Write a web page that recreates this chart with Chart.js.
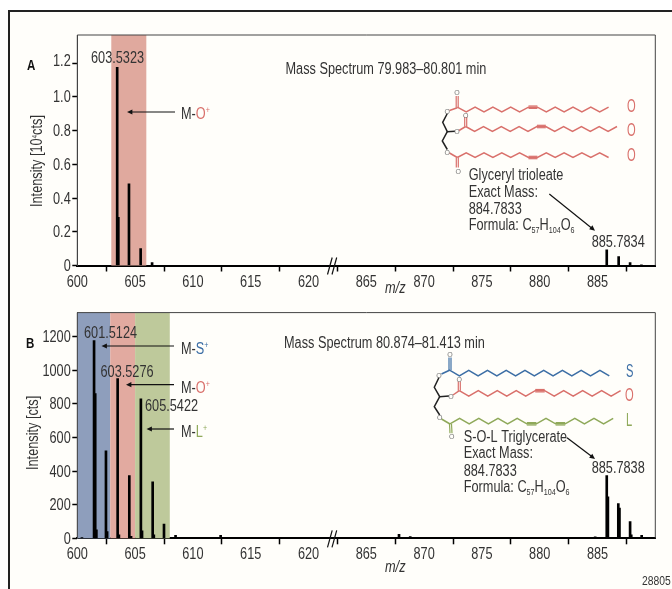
<!DOCTYPE html>
<html>
<head>
<meta charset="utf-8">
<script src="https://cdn.jsdelivr.net/npm/chart.js@4"></script>
<style>
  html, body { margin: 0; padding: 0; background: #fff; overflow: hidden; }
  #page { position: relative; width: 672px; height: 589px; }
  #frame { position: absolute; left: 8px; top: 10px; right: 0; bottom: 0; background: #fffefa; border-left: 2px solid #222; border-top: 2px solid #222; }
  canvas { position: absolute; left: 0; }
</style>
</head>
<body>
<div id="page">
  <div id="frame"></div>
  <canvas id="chartA" width="672" height="300" style="top:0"></canvas>
  <canvas id="chartB" width="672" height="289" style="top:300px"></canvas>
</div>
<script>
// peaks of spectrum A (m/z, 10^4 cts)
const peakMzA = [603.45, 603.55, 604.47, 605.48, 606.47, 885.8, 886.83, 887.82, 888.8];
const peakHeightA = [1.175, 0.285, 0.485, 0.1, 0.018, 0.093, 0.053, 0.017, 0.004];

// peaks of spectrum B (m/z, cts)
const peakMzB = [600.4, 601.45, 601.55, 601.65, 602.48, 602.58, 603.49, 603.6, 604.5, 604.65, 605.5, 605.6, 606.52, 606.62, 607.5, 608.5, 609.5, 610.5, 612.4, 613.5, 614.5, 617.47, 618.5, 619.5, 867.5, 867.83, 868.8, 869.8, 872.8, 883.8, 884.8, 885.8, 885.9, 886.8, 886.9, 887.82, 887.92, 888.82];
const peakHeightB = [5, 1176, 860, 50, 520, 40, 949, 20, 373, 12, 830, 45, 336, 20, 85, 18, 4, 3, 18, 3, 3, 6, 3, 3, 6, 24, 10, 5, 3, 3, 8, 373, 247, 207, 180, 100, 20, 18];

// x axis: the part after the break is shifted down by this much
const breakShift = 240;
const xTickValues = [600, 605, 610, 615, 620, 625, 630, 635, 640, 645, 650];
const xTickLabels = ['600', '605', '610', '615', '620', '865', '870', '875', '880', '885', ''];

const yTicksA = [0, 0.2, 0.4, 0.6, 0.8, 1.0, 1.2];
const yLabelsA = ['0', '0.2', '0.4', '0.6', '0.8', '1.0', '1.2'];
const yTicksB = [0, 200, 400, 600, 800, 1000, 1200];
const yLabelsB = ['0', '200', '400', '600', '800', '1000', '1200'];

// coloured m/z windows
const bandStartA = [602.94];
const bandEndA = [605.97];
const bandColorA = ['#e0a99e'];
const bandStartB = [600, 602.85, 605];
const bandEndB = [602.85, 605, 608];
const bandColorB = ['#8e9ebc', '#e2aaa0', '#bec99b'];

const FONT = '"Liberation Sans", sans-serif';
const NARROW = 0.795; // no condensed face installed, so squeeze the text
const TEXT = '#333';
const RED = '#d9706b';
const BLUE = '#3c6ea5';
const GREEN = '#8fa95a';

Chart.defaults.font.family = FONT;
Chart.defaults.color = TEXT;

function toAxis(mz) {
  return mz > 700 ? mz - breakShift : mz;
}

// text made of several pieces, for the sub and superscripts
function runs(ctx, x, y, parts) {
  let cx = x;
  parts.forEach(p => {
    const sx = p.sx || NARROW;
    ctx.font = (p.style || '') + ' ' + (p.size || 16) + 'px ' + FONT;
    ctx.fillStyle = p.color || TEXT;
    ctx.save();
    ctx.translate(cx, y + (p.dy || 0));
    ctx.scale(sx, 1);
    ctx.fillText(p.t, 0, 0);
    ctx.restore();
    cx += ctx.measureText(p.t).width * sx;
  });
}

function label(ctx, x, y, t, size, color, style) {
  runs(ctx, x, y, [{ t: t, size: size, color: color, style: style }]);
}

// the S, O, L letters next to the chains
function chainLetter(ctx, x, y, t, color) {
  runs(ctx, x, y, [{ t: t, size: 18, color: color, sx: 0.62 }]);
}

function textWidth(ctx, t) {
  ctx.font = '16px ' + FONT;
  return ctx.measureText(t).width * NARROW;
}

function arrow(ctx, x1, y1, x2, y2) {
  const a = Math.atan2(y2 - y1, x2 - x1);
  ctx.strokeStyle = '#111';
  ctx.fillStyle = '#111';
  ctx.lineWidth = 1.2;
  ctx.beginPath();
  ctx.moveTo(x1, y1);
  ctx.lineTo(x2 - 4 * Math.cos(a), y2 - 4 * Math.sin(a));
  ctx.stroke();
  ctx.beginPath();
  ctx.moveTo(x2, y2);
  ctx.lineTo(x2 - 6 * Math.cos(a - 0.45), y2 - 6 * Math.sin(a - 0.45));
  ctx.lineTo(x2 - 6 * Math.cos(a + 0.45), y2 - 6 * Math.sin(a + 0.45));
  ctx.closePath();
  ctx.fill();
}

function path(ctx, pts, color, w) {
  ctx.strokeStyle = color;
  ctx.lineWidth = w || 1.5;
  ctx.beginPath();
  pts.forEach((p, i) => (i ? ctx.lineTo(p[0], p[1]) : ctx.moveTo(p[0], p[1])));
  ctx.stroke();
}

// fatty acid tail: zigzag, flat at the double bonds
function chain(ctx, x0, y0, step, dy, n, doubles, color) {
  let low = false;
  const pts = [[x0, y0]];
  for (let i = 1; i <= n; i++) {
    if (!doubles.includes(i - 1)) low = !low;
    pts.push([x0 + step * i, y0 + (low ? dy : 0)]);
  }
  path(ctx, pts, color, 1.5);
  doubles.forEach(d => {
    const a = pts[d], b = pts[d + 1];
    path(ctx, [[a[0], a[1] - 1.2], [b[0], b[1] - 1.2]], color, 1.2);
    path(ctx, [[a[0], a[1] + 1.2], [b[0], b[1] + 1.2]], color, 1.2);
  });
}

function atom(ctx, x, y) {
  ctx.textAlign = 'center';
  ctx.font = '7px ' + FONT;
  ctx.fillStyle = '#777';
  ctx.fillText('O', x, y + 2.5);
  ctx.textAlign = 'left';
}

function breakMark(ctx, y) {
  path(ctx, [[327.5, y + 9], [332.2, y - 8]], '#111', 1.2);
  path(ctx, [[332, y + 9], [336.7, y - 8]], '#111', 1.2);
}

function formula(ctx, x, y) {
  runs(ctx, x, y, [
    { t: 'Formula: C' }, { t: '57', size: 9, dy: 3 }, { t: 'H' },
    { t: '104', size: 9, dy: 3 }, { t: 'O' }, { t: '6', size: 9, dy: 3 }
  ]);
}

function ionLabel(ctx, x, y, letter, color) {
  runs(ctx, x, y, [{ t: 'M-' }, { t: letter, color: color }, { t: '+', size: 9, dy: -6, color: color }]);
}

function yTitle(ctx, x, y, parts) {
  ctx.save();
  ctx.translate(x, y);
  ctx.rotate(-Math.PI / 2);
  runs(ctx, 0, 0, parts);
  ctx.restore();
}

// tick labels taken from the scales, drawn here so they can be squeezed
function tickLabels(chart, ctx, xBaseline, yLabels, yTicks) {
  const { x, y } = chart.scales;
  xTickValues.forEach((v, i) => {
    const t = xTickLabels[i];
    label(ctx, x.getPixelForValue(v) - textWidth(ctx, t) / 2, xBaseline, t);
  });
  yTicks.forEach((v, i) => {
    const t = yLabels[i];
    // the top label of A sits a little above its tick in the original
    const nudge = t === '1.2' ? -3 : 0;
    label(ctx, 70.7 - textWidth(ctx, t), y.getPixelForValue(v) + chart.canvas.offsetTop + 5.5 + nudge, t);
  });
}

function drawStructureA(ctx) {
  path(ctx, [[447.3, 113.5], [442.7, 122.3], [447.3, 131.7], [455, 131.2]], '#222');
  path(ctx, [[447.3, 131.7], [442.3, 141], [447.3, 149.5]], '#222');

  path(ctx, [[449.5, 110.5], [457.3, 107.7]], RED);
  path(ctx, [[456.2, 107.7], [456.2, 96]], RED, 1.2);
  path(ctx, [[458.2, 107.7], [458.2, 96]], RED, 1.2);
  chain(ctx, 457.3, 107.2, 8.9, 4.6, 17, [8], RED);

  path(ctx, [[459, 130.5], [465.7, 126.5]], RED);
  path(ctx, [[464.7, 126.5], [464.7, 117]], RED, 1.2);
  path(ctx, [[466.7, 126.5], [466.7, 117]], RED, 1.2);
  chain(ctx, 465.7, 126.5, 8.9, 4.8, 17, [8], RED);

  path(ctx, [[449.5, 153], [457.3, 157.5]], RED);
  path(ctx, [[456.3, 157.5], [456.3, 167.5]], RED, 1.2);
  path(ctx, [[458.3, 157.5], [458.3, 167.5]], RED, 1.2);
  chain(ctx, 457.3, 157.5, 8.9, -4.6, 17, [8], RED);

  atom(ctx, 447.3, 111);
  atom(ctx, 457, 92);
  atom(ctx, 457, 131);
  atom(ctx, 465.7, 115);
  atom(ctx, 447.3, 152);
  atom(ctx, 458.3, 171);

  chainLetter(ctx, 627, 111.5, 'O', RED);
  chainLetter(ctx, 627, 136, 'O', RED);
  chainLetter(ctx, 627, 161, 'O', RED);
}

function drawStructureB(ctx) {
  path(ctx, [[439, 377.5], [434.3, 387.3], [439.7, 396.7], [449, 396]], '#222');
  path(ctx, [[439.7, 396.7], [434.3, 406.7], [439.7, 415]], '#222');

  path(ctx, [[441.5, 374], [450, 370]], BLUE);
  path(ctx, [[449, 370], [449, 357.5]], BLUE, 1.2);
  path(ctx, [[451, 370], [451, 357.5]], BLUE, 1.2);
  chain(ctx, 450, 370.3, 9.37, 5.6, 17, [], BLUE);

  path(ctx, [[453, 395], [459.3, 390.7]], RED);
  path(ctx, [[458.3, 390.7], [458.3, 381.5]], RED, 1.2);
  path(ctx, [[460.3, 390.7], [460.3, 381.5]], RED, 1.2);
  chain(ctx, 459.3, 390.7, 9.49, 5.5, 17, [8], RED);

  path(ctx, [[441.5, 419], [450, 424]], GREEN);
  path(ctx, [[449.5, 424], [450, 433.3]], GREEN, 1.2);
  path(ctx, [[451.5, 424], [452, 433.3]], GREEN, 1.2);
  chain(ctx, 450, 423.8, 9.6, -5.5, 17, [8, 11], GREEN);

  atom(ctx, 439, 375);
  atom(ctx, 450, 354.5);
  atom(ctx, 451, 396);
  atom(ctx, 459.3, 379.5);
  atom(ctx, 439.7, 417.5);
  atom(ctx, 451.7, 436);

  chainLetter(ctx, 626, 377, 'S', BLUE);
  chainLetter(ctx, 625, 400.5, 'O', RED);
  chainLetter(ctx, 626, 426, 'L', GREEN);
}

function bandsPlugin(starts, ends, colors) {
  return {
    id: 'bands',
    beforeDatasetsDraw(chart) {
      const { ctx, chartArea, scales } = chart;
      starts.forEach((s, i) => {
        const x1 = scales.x.getPixelForValue(s);
        const x2 = scales.x.getPixelForValue(ends[i]);
        ctx.fillStyle = colors[i];
        ctx.fillRect(x1, chartArea.top, x2 - x1, chartArea.bottom - chartArea.top);
      });
    }
  };
}

function framePlugin() {
  return {
    id: 'plotFrame',
    afterDraw(chart) {
      const { ctx, chartArea: a } = chart;
      ctx.save();
      path(ctx, [[a.left, a.bottom], [a.left, a.top], [a.right, a.top], [a.right, a.bottom]], '#444', 1);
      ctx.restore();
    }
  };
}

function textPlugin(top, draw) {
  return {
    id: 'annotations',
    afterDraw(chart) {
      const ctx = chart.ctx;
      ctx.save();
      ctx.translate(0, -top); // page coordinates
      ctx.textAlign = 'left';
      ctx.textBaseline = 'alphabetic';
      draw(ctx, chart);
      ctx.restore();
    }
  };
}

function makeChart(id, mz, heights, yMax, yTicks, yLabels, padTop, xHeight, plugins) {
  return new Chart(document.getElementById(id), {
    type: 'bar',
    data: {
      datasets: [{
        data: mz.map((m, i) => ({ x: toAxis(m), y: heights[i] })),
        backgroundColor: '#000',
        barThickness: 2
      }]
    },
    options: {
      responsive: false,
      animation: false,
      layout: { padding: { top: padTop, right: 16.7, left: 0, bottom: 0 } },
      plugins: { legend: { display: false }, tooltip: { enabled: false } },
      scales: {
        x: {
          type: 'linear',
          min: 600,
          max: 650,
          offset: false,
          afterBuildTicks: s => { s.ticks = xTickValues.map(v => ({ value: v })); },
          afterFit: s => { s.height = xHeight; },
          ticks: {
            autoSkip: false,
            maxRotation: 0,
            color: 'transparent',
            font: { size: 16 },
            callback: v => xTickLabels[xTickValues.indexOf(v)]
          },
          grid: { drawOnChartArea: false, tickLength: 6, tickColor: '#000', tickWidth: 1.5 },
          border: { color: '#000', width: 2 }
        },
        y: {
          min: 0,
          max: yMax,
          afterBuildTicks: s => { s.ticks = yTicks.map(v => ({ value: v })); },
          afterFit: s => { s.width = 77.3; },
          ticks: {
            autoSkip: false,
            color: 'transparent',
            font: { size: 16 },
            callback: v => yLabels[yTicks.indexOf(v)]
          },
          grid: { drawOnChartArea: false, tickLength: 5, tickColor: '#000', tickWidth: 1.5 },
          border: { color: '#444', width: 1 }
        }
      }
    },
    plugins: plugins
  });
}

makeChart('chartA', peakMzA, peakHeightA, 1.367, yTicksA, yLabelsA, 35, 34.5, [
  bandsPlugin(bandStartA, bandEndA, bandColorA),
  framePlugin(),
  textPlugin(0, (ctx, chart) => {
    tickLabels(chart, ctx, 287, yLabelsA, yTicksA);
    label(ctx, 27, 70, 'A', 14.5, '#111', 'bold');
    yTitle(ctx, 42, 207, [{ t: 'Intensity [10' }, { t: '4', size: 8, dy: -5 }, { t: 'cts]' }]);
    label(ctx, 91, 63, '603.5323');
    label(ctx, 285.5, 74, 'Mass Spectrum 79.983\u201380.801 min');
    arrow(ctx, 175, 112, 127, 112);
    ionLabel(ctx, 181, 119, 'O', RED);
    drawStructureA(ctx);
    label(ctx, 468.7, 180, 'Glyceryl trioleate');
    label(ctx, 468.7, 197, 'Exact Mass:');
    label(ctx, 468.7, 214, '884.7833');
    formula(ctx, 468.7, 230);
    arrow(ctx, 549.3, 194, 595, 230.7);
    label(ctx, 591.7, 247, '885.7834');
    label(ctx, 385, 293, 'm/z', 16, TEXT, 'italic');
    breakMark(ctx, 265.5);
  })
]);

makeChart('chartB', peakMzB, peakHeightB, 1342, yTicksB, yLabelsB, 12, 50.7, [
  bandsPlugin(bandStartB, bandEndB, bandColorB),
  framePlugin(),
  textPlugin(300, (ctx, chart) => {
    tickLabels(chart, ctx, 559, yLabelsB, yTicksB);
    label(ctx, 26, 348, 'B', 14.5, '#111', 'bold');
    yTitle(ctx, 38, 470, [{ t: 'Intensity [cts]' }]);
    label(ctx, 84, 337.7, '601.5124');
    label(ctx, 100.5, 376.7, '603.5276');
    label(ctx, 145, 410.7, '605.5422');
    label(ctx, 284, 348, 'Mass Spectrum 80.874\u201381.413 min');
    arrow(ctx, 174, 346, 101.5, 346);
    ionLabel(ctx, 181, 354, 'S', BLUE);
    arrow(ctx, 174, 384.7, 126, 384.7);
    ionLabel(ctx, 181, 392.7, 'O', RED);
    arrow(ctx, 174, 429, 146.5, 429);
    ionLabel(ctx, 181, 437, 'L', GREEN);
    drawStructureB(ctx);
    label(ctx, 463.7, 441.7, 'S-O-L Triglycerate');
    label(ctx, 463.7, 458, 'Exact Mass:');
    label(ctx, 463.7, 475.7, '884.7833');
    formula(ctx, 463.7, 492);
    arrow(ctx, 567, 437.7, 595, 459);
    label(ctx, 591.7, 473, '885.7838');
    label(ctx, 385, 571.7, 'm/z', 16, TEXT, 'italic');
    label(ctx, 642, 585, '28805', 13);
    breakMark(ctx, 538.3);
  })
]);
</script>
</body>
</html>
